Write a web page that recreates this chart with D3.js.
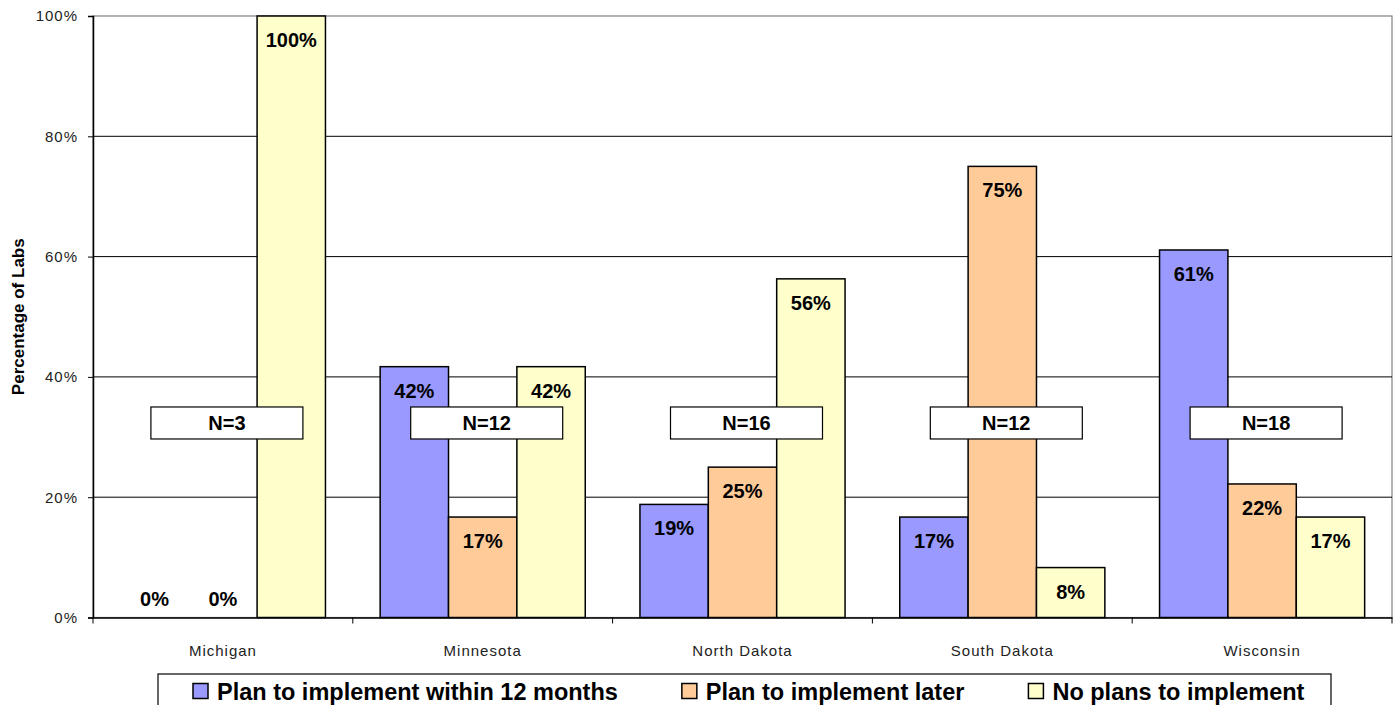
<!DOCTYPE html>
<html>
<head>
<meta charset="utf-8">
<script src="https://cdn.jsdelivr.net/npm/d3@7"></script>
<style>
  body { margin: 0; background: #fff; }
  text { font-family: Arial, "Liberation Sans", sans-serif; }
</style>
</head>
<body>
<div id="my_dataviz"></div>
<script>
// data (percent of labs)
var states = ["Michigan", "Minnesota", "North Dakota", "South Dakota", "Wisconsin"];
var seriesNames = ["Plan to implement within 12 months", "Plan to implement later", "No plans to implement"];
var within12 = [0, 41.7, 18.8, 16.7, 61.1];
var later = [0, 16.7, 25, 75, 22.2];
var noPlans = [100, 41.7, 56.3, 8.3, 16.7];
var sampleSizes = ["N=3", "N=12", "N=16", "N=12", "N=18"];
var yTicks = [0, 20, 40, 60, 80, 100];

var colors = ["#9999FF", "#FFCC99", "#FFFFCC"];
var allSeries = [within12, later, noPlans];

// set the dimensions and margins of the graph
var margin = { top: 16, right: 5, bottom: 87.5, left: 93 },
    width = 1397 - margin.left - margin.right,
    height = 705 - margin.top - margin.bottom;

var svg = d3.select("#my_dataviz")
    .append("svg")
    .attr("width", 1397)
    .attr("height", 705);

var g = svg.append("g")
    .attr("transform", "translate(" + margin.left + "," + margin.top + ")");

// scales
var x0 = d3.scaleBand()
    .domain(states)
    .range([0, width]);

var x1 = d3.scaleBand()
    .domain(d3.range(seriesNames.length))
    .range([0, x0.bandwidth()])
    .paddingOuter(0.4);

var y = d3.scaleLinear()
    .domain([0, 100])
    .range([height, 0]);

// plot area border (gray)
g.append("rect")
    .attr("x", 0)
    .attr("y", 0)
    .attr("width", width)
    .attr("height", height)
    .attr("fill", "none")
    .attr("stroke", "#808080")
    .attr("stroke-width", 1.2);

// gridlines
g.selectAll(".grid")
    .data(yTicks.filter(function (d) { return d > 0 && d < 100; }))
    .enter()
    .append("line")
    .attr("x1", 0)
    .attr("x2", width)
    .attr("y1", function (d) { return y(d); })
    .attr("y2", function (d) { return y(d); })
    .attr("stroke", "#000")
    .attr("stroke-width", 1);

// Y axis
var yAxis = g.append("g")
    .call(d3.axisLeft(y)
        .tickValues(yTicks)
        .tickSize(5)
        .tickPadding(10)
        .tickFormat(function (d) { return d + "%"; }));
yAxis.select(".domain").attr("stroke", "#000").attr("stroke-width", 1.5);
yAxis.selectAll("line").attr("stroke", "#000");
yAxis.selectAll("text")
    .style("font-size", "15px")
    .style("letter-spacing", "1px")
    .attr("fill", "#222");

// X axis (ticks between categories)
var xAxis = g.append("g")
    .attr("transform", "translate(0," + height + ")")
    .call(d3.axisBottom(x0).tickSize(0).tickPadding(28));
xAxis.select(".domain").attr("stroke", "#000").attr("stroke-width", 1.5);
xAxis.selectAll("text")
    .style("font-size", "15px")
    .style("letter-spacing", "1px")
    .attr("fill", "#222");

g.selectAll(".sep")
    .data(states)
    .enter()
    .append("line")
    .attr("x1", function (d) { return x0(d); })
    .attr("x2", function (d) { return x0(d); })
    .attr("y1", height)
    .attr("y2", height + 6)
    .attr("stroke", "#000");
g.append("line")
    .attr("x1", width).attr("x2", width)
    .attr("y1", height).attr("y2", height + 6)
    .attr("stroke", "#000");

// Y axis title
svg.append("text")
    .attr("transform", "translate(24," + (margin.top + height / 2) + ") rotate(-90)")
    .attr("text-anchor", "middle")
    .style("font-size", "17px")
    .style("font-weight", "bold")
    .text("Percentage of Labs");

// bars
var groups = g.selectAll(".state")
    .data(states)
    .enter()
    .append("g")
    .attr("transform", function (d) { return "translate(" + x0(d) + ",0)"; });

groups.selectAll("rect")
    .data(function (d, i) {
        return allSeries.map(function (s, k) { return { k: k, v: s[i] }; });
    })
    .enter()
    .filter(function (d) { return d.v > 0; })
    .append("rect")
    .attr("x", function (d) { return x1(d.k); })
    .attr("y", function (d) { return y(d.v); })
    .attr("width", x1.bandwidth())
    .attr("height", function (d) { return height - y(d.v); })
    .attr("fill", function (d) { return colors[d.k]; })
    .attr("stroke", "#000")
    .attr("stroke-width", 1.5);

// value labels
groups.selectAll(".val")
    .data(function (d, i) {
        return allSeries.map(function (s, k) { return { k: k, v: s[i] }; });
    })
    .enter()
    .append("text")
    .attr("x", function (d) { return x1(d.k) + x1.bandwidth() / 2; })
    .attr("y", function (d) { return d.v > 0 ? y(d.v) + 31 : height - 12; })
    .attr("text-anchor", "middle")
    .style("font-size", "20px")
    .style("font-weight", "bold")
    .text(function (d) { return Math.round(d.v) + "%"; });

// N= boxes
var nBoxes = g.selectAll(".nbox")
    .data(states)
    .enter()
    .append("g")
    .attr("transform", function (d) {
        return "translate(" + (x0(d) + x0.bandwidth() / 2 + 4) + "," + y(35) + ")";
    });
nBoxes.append("rect")
    .attr("x", -76)
    .attr("y", 0)
    .attr("width", 152)
    .attr("height", 32)
    .attr("fill", "#fff")
    .attr("stroke", "#000")
    .attr("stroke-width", 1.2);
nBoxes.append("text")
    .attr("x", 0)
    .attr("y", 23.5)
    .attr("text-anchor", "middle")
    .style("font-size", "20px")
    .style("font-weight", "bold")
    .text(function (d, i) { return sampleSizes[i]; });

// legend
var legend = svg.append("g");
legend.append("rect")
    .attr("x", 158)
    .attr("y", 674)
    .attr("width", 1173)
    .attr("height", 60)
    .attr("fill", "#fff")
    .attr("stroke", "#000")
    .attr("stroke-width", 1.2);

var lx = 193;
seriesNames.forEach(function (name, i) {
    legend.append("rect")
        .attr("x", lx)
        .attr("y", 683.5)
        .attr("width", 15)
        .attr("height", 15)
        .attr("fill", colors[i])
        .attr("stroke", "#000")
        .attr("stroke-width", 1.5);
    var t = legend.append("text")
        .attr("x", lx + 24)
        .attr("y", 700)
        .style("font-size", "23.5px")
        .style("font-weight", "bold")
        .text(name);
    lx = lx + 24 + t.node().getComputedTextLength() + 64;
});
</script>
</body>
</html>
